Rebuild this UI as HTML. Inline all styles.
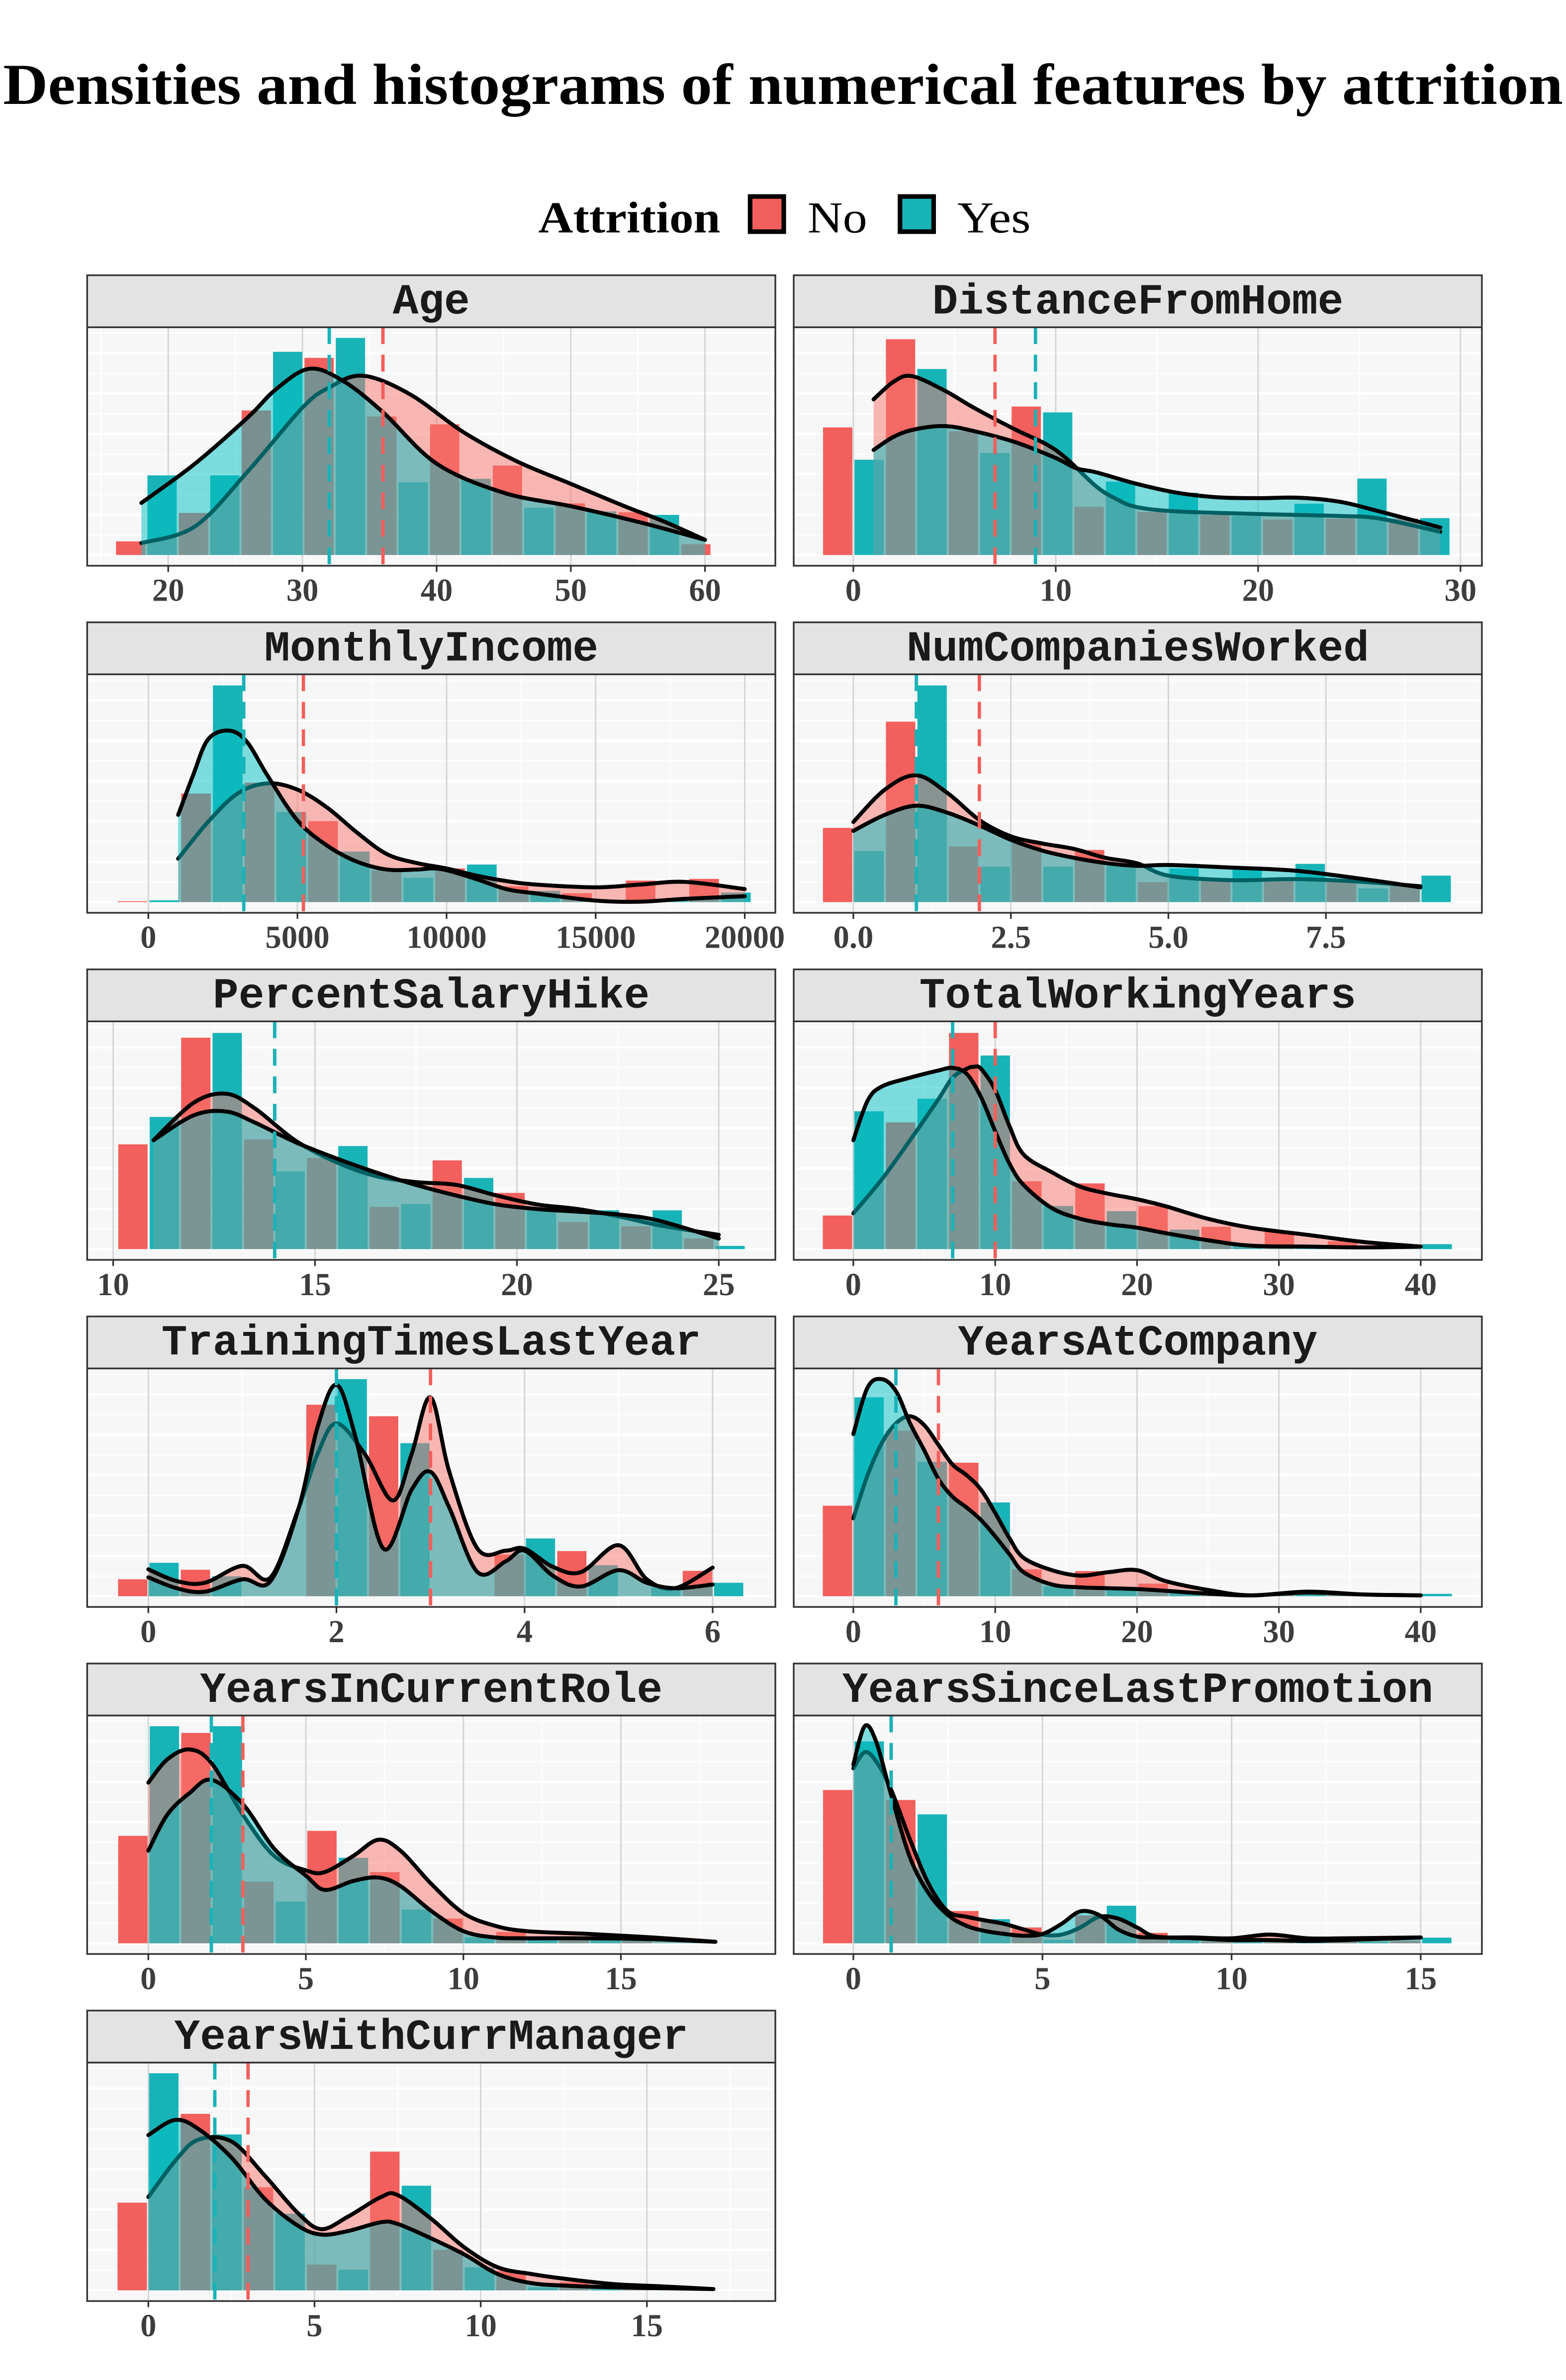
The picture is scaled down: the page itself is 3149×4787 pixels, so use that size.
<!DOCTYPE html>
<html><head><meta charset="utf-8"><style>
html,body{margin:0;padding:0;background:#fff;}
svg{display:block;}
</style></head><body>
<svg id="chart" xmlns="http://www.w3.org/2000/svg" width="3149" height="4787" viewBox="0 0 1024 1556.6">
<rect x="0" y="0" width="1024" height="1556.6" fill="#ffffff"/>
<text x="512" y="68" text-anchor="middle" font-family="Liberation Serif, serif" font-weight="bold" font-size="38" textLength="1020" lengthAdjust="spacingAndGlyphs">Densities and histograms of numerical features by attrition</text>
<g>
<text x="352" y="152" font-family="Liberation Serif, serif" font-weight="bold" font-size="29" textLength="119" lengthAdjust="spacingAndGlyphs">Attrition</text>
<rect x="490.5" y="128.5" width="22" height="23" fill="#F25F5C" stroke="#000" stroke-width="3"/>
<text x="528" y="152" font-family="Liberation Serif, serif" font-size="29" textLength="39" lengthAdjust="spacingAndGlyphs">No</text>
<rect x="588.5" y="128.5" width="22" height="23" fill="#18B3B7" stroke="#000" stroke-width="3"/>
<text x="626" y="152" font-family="Liberation Serif, serif" font-size="29" textLength="48" lengthAdjust="spacingAndGlyphs">Yes</text>
</g>
<g id="panels"></g>
</svg>
<script>
// ---- data (values on a 0-100 relative density scale) ----
const panelNames = ["Age","DistanceFromHome","MonthlyIncome","NumCompaniesWorked","PercentSalaryHike","TotalWorkingYears","TrainingTimesLastYear","YearsAtCompany","YearsInCurrentRole","YearsSinceLastPromotion","YearsWithCurrManager"];
const binStart = [16.03,-1.55,-1065,-0.5,10.1,-2.23,-0.333,-2.23,-0.99,-0.83,-0.96];
const binWidth = [4.68,3.106,2130,1.0,1.557,4.45,0.667,4.45,2.0,1.667,1.9];
const histNo = [
 [6.3,19.4,66.6,90.8,63.8,60.2,41.2,23.8,19.7,5],
 [58.8,99.4,57,68.4,22.2,19.8,18.4,16.3,16.8,16.8],
 [0.4,50,55,37.3,14.7,15.5,7.3,4.1,9.9,10.7],
 [34.2,83.1,25.6,27.9,24,9.2,9.7,9.7,9.3,7.3],
 [48.3,97.4,50.5,42,19.5,40.9,25.9,12.5,10.5,4.9],
 [15.5,58.4,99.6,31.3,30.3,19.8,10.3,8.2,3.7,1.2],
 [7.8,12.2,0,88.2,82.9,0,19.2,20.8,0,11.7],
 [41.7,76.2,61.5,12.4,11.6,5.8,1.2,0.6,0.4,0.4],
 [49.5,96.9,28.4,51.8,32.8,11.4,5.2,1.9,1.1,0],
 [70.6,66,14.9,7.3,12.9,4.8,0.8,1.1,0.7,1.1],
 [40.4,81.3,47.5,11.9,63.9,18.7,9,3.9,0.6,0]
];
const histYes = [
 [36.7,36.7,93.6,100,33.5,35.1,21.8,20.1,18.5],
 [43.9,85.7,47,65.7,33.8,28.7,18,23.6,35.2,17],
 [0.8,99.8,41.5,23.3,11.2,17.3,5.2,0.3,0.7,4.4],
 [23.5,99.8,16.3,16.3,16.7,15.5,16.3,17.6,6.3,12.2],
 [60.9,99.6,35.8,47.5,20.8,32.8,18.1,17.9,17.9,1.5],
 [63.5,69.3,89.2,19.9,17.5,9,1.6,0.8,0.8,2.3],
 [15.4,9.2,0,100,70.5,0,26.6,14.3,4.1,6.2],
 [91.6,61.9,43.2,4.5,3.3,2.1,0.8,1.2,0.2,1.1],
 [100,100,19.2,39.4,15.5,2.7,1.5,1.9,0,0],
 [93,59.4,11.1,1.6,17.3,2.7,1.1,1.1,0.7,2.6],
 [100,71.8,35.3,9.5,48.2,10.6,1.4,0.6,0,0]
];
const densNoX = [
 [18,22,26,30,32,34.5,38,42,46,50,54,57,60],
 [1,2,2.9,4.5,6,8,9.5,10.5,12,13,14,16,20,24,26,29],
 [1000,2000,3000,4000,5000,6000,7000,8000,9000,10000,11000,12000,13000,15000,16500,18000,20000],
 [0,0.5,1,1.5,2,2.5,3,3.5,4,4.5,5,6,7,8,9],
 [11,12,12.8,13.5,14.5,15.5,16.5,17.5,18.5,19.5,20.5,21.5,22.5,23.5,25],
 [0,2,4,6,7,8,8.5,9,10,11,12,14,16,18,20,22,25,28,32,36,40],
 [0,0.3,0.6,1,1.3,1.6,1.8,2,2.3,2.6,2.8,3,3.2,3.5,3.8,4,4.3,4.6,5,5.3,5.6,6],
 [0,1,2,3,4,5,6,7,8,9,10,11,12,14,16,18,20,22,25,28,32,36,40],
 [0,0.6,1.3,2,3,4,5,5.6,6.5,7.3,8,9,10,11,12,14,16,18],
 [0,0.3,0.6,1,1.5,2,2.5,3,3.5,4,4.5,5,5.5,6,6.5,7,7.5,8,9,10,11,12,13,15],
 [0,0.8,1.5,2.5,3.5,4.5,5.2,6,7,7.5,8.5,9.5,10.5,11.5,12.5,14,15.5,17]
];
const densNoY = [
 [5.5,13.2,39,67.9,77.2,82.6,74.1,56.6,43.1,32.8,22.5,15.3,7],
 [71.7,79.9,82.4,75.8,67.6,57.8,51.2,44.7,31.6,25.8,22.1,20.1,18.9,18.0,16.8,10.7],
 [20,36.9,50.1,54.7,51.8,43.5,32,22.1,18,15.5,12.2,9.7,8.1,6.8,8.1,9.3,6],
 [36.9,51.8,58.4,50.1,37.8,30.3,27,24.5,20.4,17.9,12.2,10.1,10.6,9.5,7.3],
 [50.2,67.5,71.6,65,50.2,40.3,33.7,30.9,29.6,24.7,20.6,18.5,15.2,11.1,6.6],
 [16.5,32.1,50.2,69.1,79,83.1,84,83.1,73.3,56.8,43.6,35.4,28.8,25.5,23,19.8,14,9.9,6.6,3.3,1.2],
 [12.4,7,6.2,14,8.7,40.8,65.6,79.6,65.6,44.1,65.6,91.6,57.3,21.9,21,21.9,13.6,11.1,23.5,7.8,3.7,13.2],
 [35.9,55.7,70.5,79.6,82.9,78.8,69.7,60.6,55.7,49.1,38.4,26.8,17.7,12,9.5,11.1,12,7,2.9,0.4,2.1,0.8,0.4],
 [74,84.7,89.3,83.1,59.2,40.2,33.6,32.8,40.2,47.7,42.7,27.1,13.9,8.1,5.6,4.3,2.7,0.7],
 [80.6,88,83.9,70.7,47.7,27.1,14.7,12.2,10.5,8.9,6.4,4,4,7.3,12.2,11.4,7.3,3.1,2.7,2.3,4,2.3,2.3,2.7],
 [43,59.5,69.4,68.6,52.9,35.6,28.2,33.9,43,43.9,33.1,19.9,10.7,7.6,5.4,2.9,1.8,0.6]
];
const densYesX = [
 [18,22,26,28,30.5,33,36,40,45,50,55,60],
 [1,2,3,4.5,6,8,10,11,12,14,16,18,20,22,24,26,29],
 [1000,1500,2000,2700,3300,4000,5000,6000,7000,8000,9000,9500,10000,11000,12000,13000,15000,16500,18000,20000],
 [0,0.5,1,1.5,2,2.5,3,3.5,4,4.5,5,6,7,8,9],
 [11,12,12.8,13.5,14.5,15.5,16.5,17.5,18.5,19.5,20.5,21.5,22.5,23.5,25],
 [0,1,2,4,6,7,8,9,10,11,12,14,16,18,20,22,25,28,32,36,40],
 [0,0.3,0.6,1,1.3,1.6,1.8,2,2.2,2.5,2.8,3,3.2,3.5,3.8,4,4.3,4.6,5,5.3,5.6,6],
 [0,1,2,3,4,5,6,7,8,9,10,11,12,14,16,18,20,22,25,28,32,36,40],
 [0,0.6,1.3,2,3,4,5,5.6,6.5,7.3,8,9,10,11,12,14,16,18],
 [0,0.3,0.6,1,1.5,2,2.5,3,3.5,4,4.5,5,5.5,6,6.5,7,7.5,8,9,10,11,12,13,15],
 [0,0.8,1.5,2.5,3.5,4.5,5.2,6,7,7.5,8.5,9.5,10.5,11.5,12.5,14,15.5,17]
];
const densYesY = [
 [24,42.1,63.8,76.2,85.8,80.3,65.8,42.1,28.7,22.5,15.3,7],
 [48.4,54.5,57.8,59.4,57.0,52.0,44.7,40,38.1,32.8,28.7,26.6,26.2,26.4,24.6,20.1,12.7],
 [40.2,58.4,74.9,79,73.9,58.2,37.6,26,18.6,15,15,15.5,14.7,10.6,6,4,0.7,0.2,1.5,2.7],
 [32.8,40.2,44.4,41.1,35.3,28.7,23.7,20.4,18,16.7,17.1,15.9,14.5,11,6.8],
 [50.2,61.7,63.4,58.4,49.4,42,35.4,29.6,24.7,20.6,18.5,17.3,16,13.2,4.9],
 [50.2,68.3,74.9,79,82.3,83.5,80.7,70,54.3,39.5,29.6,18.9,14,11.5,9.9,7.4,4.1,1.6,1.2,0.8,1.2],
 [8.7,3.7,2.1,7.8,7,40.8,78,97.4,73.8,21.9,49.1,57.3,40.8,11.1,16.1,21,9.5,4.5,12,6.2,3.7,5.4],
 [74.7,96.1,100,94.5,79.6,67.2,54,45.8,40.8,35.1,27.6,19.4,11.1,5.4,4.1,3.7,3.3,2.5,1.2,0.4,1.7,0.8,0.4],
 [42.7,59.2,69.1,75.3,64.1,43.5,31.2,24.6,28.7,30.3,26.4,14.7,5.6,2.7,2.3,2.3,1.9,0.7],
 [82.3,100,93,68.3,39.4,22.8,13,8,5.6,4.3,3.5,4.3,8.9,14.7,13,6.4,3.1,2.7,2.3,1.5,1.5,1.1,1.5,2.7],
 [71.5,78.5,74.4,61.2,42.2,29.8,25.7,27.3,31.4,30.6,24,16.6,7.6,3.4,2.2,1.4,1,0.6]
];
const meanNo = [36,7,5200,2,14,10,3,6,3,1,3];
const meanYes = [32,9,3200,1,14,7,2,3,2,1,2];
const tickValues = [
 [20,30,40,50,60],[0,10,20,30],[0,5000,10000,15000,20000],[0,2.5,5,7.5],
 [10,15,20,25],[0,10,20,30,40],[0,2,4,6],[0,10,20,30,40],[0,5,10,15],[0,5,10,15],[0,5,10,15]
];
const tickLabels = [
 ["20","30","40","50","60"],["0","10","20","30"],["0","5000","10000","15000","20000"],["0.0","2.5","5.0","7.5"],
 ["10","15","20","25"],["0","10","20","30","40"],["0","2","4","6"],["0","10","20","30","40"],["0","5","10","15"],["0","5","10","15"],["0","5","10","15"]
];
// ---- layout (pixel calibration of each x axis, not data) ----
const axisCal = [[20,110,60,461],[0,558,30,955],[0,97,20000,487],[0,558,7.5,867],[10,74,25,470],[0,558,40,929],[0,97,6,466],[0,558,40,929],[0,97,15,406],[0,558,15,929],[0,97,15,423]];

const NS = "http://www.w3.org/2000/svg";
const root = document.getElementById('panels');
function mk(tag, attrs, parent){ const e=document.createElementNS(NS,tag); for(const k in attrs) e.setAttribute(k,attrs[k]); parent.appendChild(e); return e; }
function spline(pts){
  let d = "M"+pts[0][0].toFixed(2)+","+pts[0][1].toFixed(2);
  for(let i=0;i<pts.length-1;i++){
    const p0=pts[i-1]||pts[i], p1=pts[i], p2=pts[i+1], p3=pts[i+2]||p2;
    const c1=[p1[0]+(p2[0]-p0[0])/6, p1[1]+(p2[1]-p0[1])/6];
    const c2=[p2[0]-(p3[0]-p1[0])/6, p2[1]-(p3[1]-p1[1])/6];
    d += " C"+c1[0].toFixed(2)+","+c1[1].toFixed(2)+" "+c2[0].toFixed(2)+","+c2[1].toFixed(2)+" "+p2[0].toFixed(2)+","+p2[1].toFixed(2);
  }
  return d;
}
const RED="#F25F5C", CYAN="#18B3B7";
panelNames.forEach((name, p) => {
  const col = p % 2, row = Math.floor(p/2);
  const L = col ? 519 : 57, R = col ? 969 : 507;
  const sTop = 180 + 227*row, pTop = sTop + 34, pBot = pTop + 156;
  const base = pBot - 7, topY = pTop + 7;
  const cal = axisCal[p];
  const xs = v => cal[1] + (v - cal[0]) * (cal[3]-cal[1])/(cal[2]-cal[0]);
  const ys = v => base - v/100*(base-topY);
  const slug = name.replace(/([a-z])([A-Z])/g,'$1-$2').toLowerCase();
  const g = mk('g',{},root);
  
  
  const clipId = 'clip'+p;
  const cp = mk('clipPath',{id:clipId},g); mk('rect',{x:L,y:pTop,width:R-L,height:pBot-pTop},cp);
  const bg = mk('rect',{x:L,y:pTop,width:R-L,height:pBot-pTop,fill:'#F7F7F7'},g);
  
  
  // horizontal grid
  for(let k=0;k<8;k++){ const y=base-k*26.4; if(y<pTop) break;
    mk('line',{x1:L,x2:R,y1:y,y2:y,stroke:'#fff','stroke-width':1.6},g);
    const ym=y-13.2; if(ym>pTop) mk('line',{x1:L,x2:R,y1:ym,y2:ym,stroke:'#fff','stroke-width':0.7},g);
  }
  // vertical grid
  const tv = tickValues[p], step = tv[1]-tv[0];
  for(let v=tv[0]-step*2; v<=tv[tv.length-1]+step*2; v+=step){
    const xm = xs(v+step/2); if(xm>L && xm<R) mk('line',{x1:xm,x2:xm,y1:pTop,y2:pBot,stroke:'#fff','stroke-width':0.8},g);
  }
  tv.forEach(v=>{ const x=xs(v); if(x>=L&&x<=R) mk('line',{x1:x,x2:x,y1:pTop,y2:pBot,stroke:'#D6D6D6','stroke-width':1},g); });
  const plot = mk('g',{'clip-path':'url(#'+clipId+')'},g);
  // bars
  const w = binWidth[p], e0 = binStart[p];
  histNo[p].forEach((h,i)=>{
    const x0=xs(e0+i*w), x1=xs(e0+i*w+w/2);
    const b = mk('rect',{x:x0+0.7,y:ys(h),width:Math.max(0,x1-x0-1.4),height:base-ys(h),fill:RED},plot);
    
    
  });
  histYes[p].forEach((h,i)=>{
    const x0=xs(e0+i*w+w/2), x1=xs(e0+(i+1)*w);
    const b = mk('rect',{x:x0+0.7,y:ys(h),width:Math.max(0,x1-x0-1.4),height:base-ys(h),fill:CYAN},plot);
    
    
  });
  // densities
  const curve = (X,Y,fill,nm)=>{
    const pts = X.map((v,i)=>[xs(v), ys(Y[i])]);
    const d = spline(pts);
    const area = mk('path',{d:d+" L"+pts[pts.length-1][0].toFixed(2)+","+base+" L"+pts[0][0].toFixed(2)+","+base+" Z",fill:fill,'fill-opacity':0.5},plot);
    
    
    const ln = mk('path',{d:d,fill:'none',stroke:'#000','stroke-width':2.6,'stroke-linecap':'round'},plot);
    
    
  };
  curve(densNoX[p],densNoY[p],'#F8766D','no');
  curve(densYesX[p],densYesY[p],'#00BFC4','yes');
  // mean lines
  const mN = mk('line',{x1:xs(meanNo[p]),x2:xs(meanNo[p]),y1:pTop,y2:pBot,stroke:RED,'stroke-width':2.2,'stroke-dasharray':'11,7'},plot);
  
  
  const mY = mk('line',{x1:xs(meanYes[p]),x2:xs(meanYes[p]),y1:pTop,y2:pBot,stroke:CYAN,'stroke-width':2.2,'stroke-dasharray':'11,7'},plot);
  
  
  // border
  mk('rect',{x:L,y:pTop,width:R-L,height:pBot-pTop,fill:'none',stroke:'#333','stroke-width':1.1},g);
  // strip
  const st = mk('rect',{x:L,y:sTop,width:R-L,height:34,fill:'#E3E3E3',stroke:'#333','stroke-width':1.1},g);
  
  
  const stt = mk('text',{x:(L+R)/2,y:sTop+25,'text-anchor':'middle','font-family':'Liberation Mono, monospace','font-weight':'bold','font-size':28,fill:'#1a1a1a'},g);
  stt.textContent = name;
  
  
  // ticks
  tv.forEach((v,i)=>{
    const x = xs(v);
    mk('line',{x1:x,x2:x,y1:pBot,y2:pBot+4,stroke:'#333','stroke-width':1.1},g);
    const t = mk('text',{x:x,y:pBot+23,'text-anchor':'middle','font-family':'Liberation Serif, serif','font-weight':'bold','font-size':21,fill:'#3d3d3d'},g);
    t.textContent = tickLabels[p][i];
    
    
  });
});
</script>
</body></html>
